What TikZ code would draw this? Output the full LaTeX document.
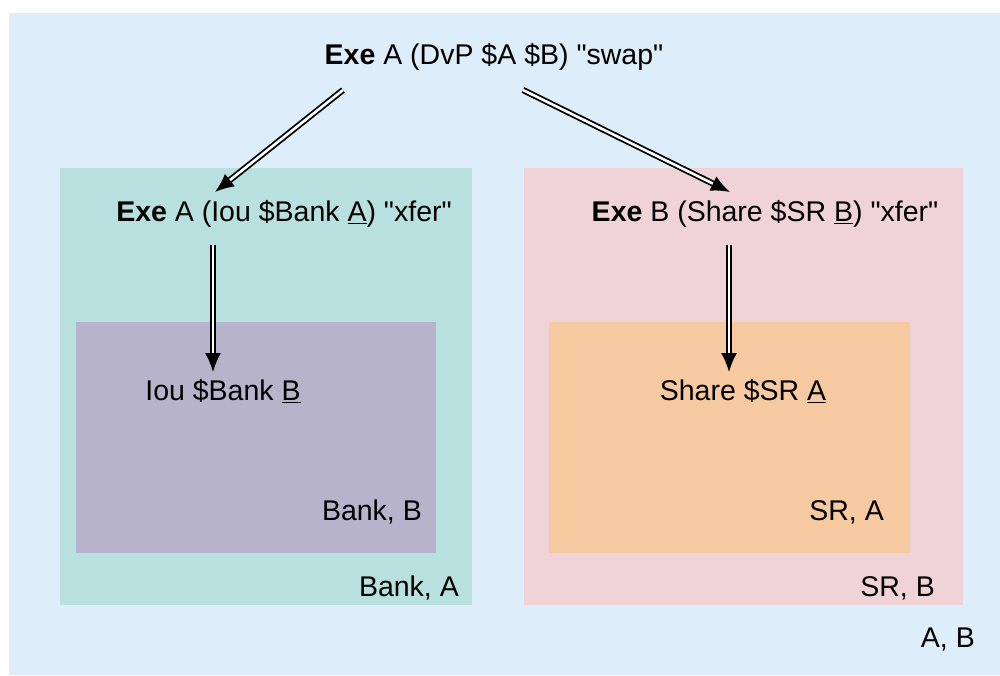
\documentclass[tikz,border=0pt]{standalone}
\usepackage{fontspec}
\setmainfont{Liberation Sans}[Ligatures=TeXOff]
\usetikzlibrary{arrows.meta,calc}

\definecolor{outerblue}{HTML}{DDEEFA}
\definecolor{bankgreen}{HTML}{B8E0DF}
\definecolor{bankpurple}{HTML}{B6B3CA}
\definecolor{srpink}{HTML}{F0D3D6}
\definecolor{srorange}{HTML}{F6C9A0}

\tikzset{
  lbl/.style={font=\fontsize{28.5}{32}\selectfont, inner sep=0pt},
  dbl/.style={double, double distance=2.6pt, line width=1.8pt, -{Latex[length=19pt,width=16pt]}},
}

\begin{document}
\begin{tikzpicture}[x=1pt,y=-1pt]
\useasboundingbox (0,0) rectangle (1000,675);

\fill[outerblue] (9,13) rectangle (1000,675);
\fill[bankgreen] (60,168) rectangle (472,605);
\fill[bankpurple] (76,322) rectangle (436,553);
\fill[srpink] (524,168) rectangle (963,605);
\fill[srorange] (549,322) rectangle (910,553);

\node[lbl] (swap) at (494,57) {\textbf{Exe} A (DvP \$A \$B) "swap"};
\node[lbl] (xferA) at (284,214) {\textbf{Exe} A (Iou \$Bank \underline{A}) "xfer"};
\node[lbl] (xferB) at (765,214) {\textbf{Exe} B (Share \$SR \underline{B}) "xfer"};
\node[lbl] (iou) at (223,391) {Iou \$Bank \underline{B}};
\node[lbl] (share) at (743,391) {Share \$SR \underline{A}};

\node[lbl,anchor=east] (bankB) at (422,512) {Bank, B};
\node[lbl,anchor=east] (srA) at (884,512) {SR, A};
\node[lbl,anchor=east] (bankA) at (459,588) {Bank, A};
\node[lbl,anchor=east] (srB) at (935,588) {SR, B};
\node[lbl,anchor=east] (ab) at (975,640) {A, B};

\draw[dbl] ($(swap.center)+(-151,33)$) -- ($(xferA.center)+(-69,-22)$);
\draw[dbl] ($(swap.center)+(29,33)$) -- ($(xferB.center)+(-35,-22)$);
\draw[dbl] ($(xferA.center)+(-71,31)$) -- ($(iou.center)+(-10,-19)$);
\draw[dbl] ($(xferB.center)+(-36,31)$) -- ($(share.center)+(-14,-19)$);
\end{tikzpicture}
\end{document}
